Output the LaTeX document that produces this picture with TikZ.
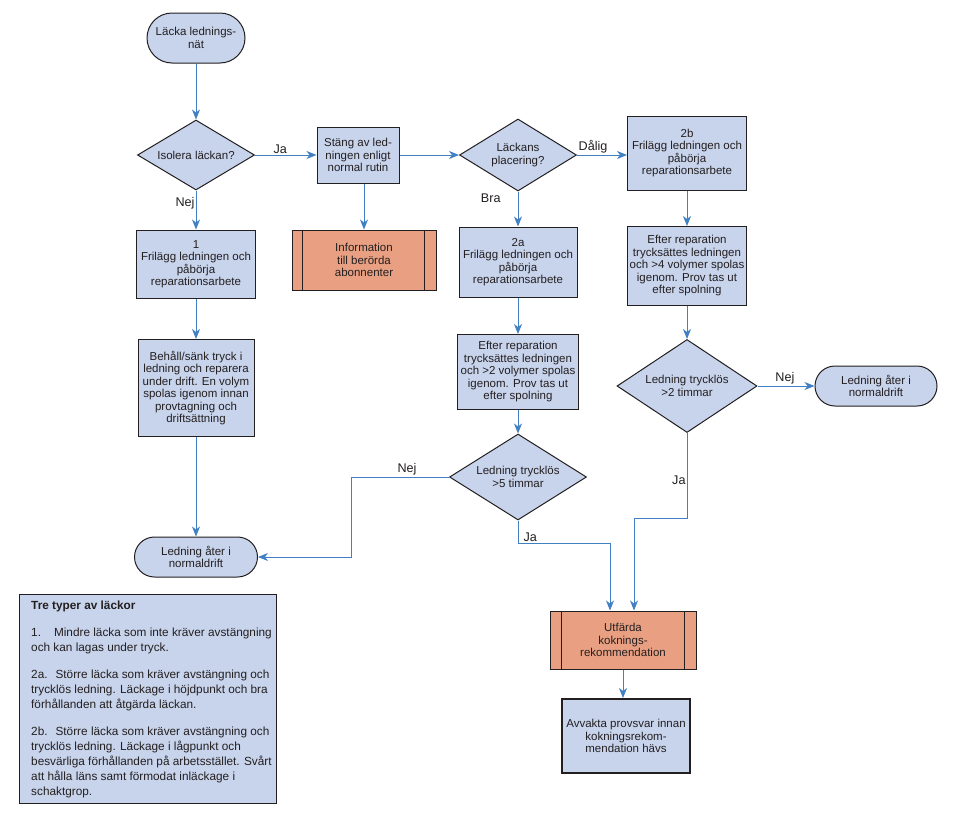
\documentclass[tikz,border=0pt]{standalone}
\usepackage{fontspec}
\setmainfont{Liberation Sans}
\usetikzlibrary{shapes.geometric,arrows.meta,calc}
\definecolor{boxblue}{RGB}{200,212,236}
\definecolor{salmon}{RGB}{233,160,130}
\definecolor{lineblue}{RGB}{66,128,196}
\definecolor{edgec}{RGB}{35,31,32}
\tikzset{
  base/.style={draw=edgec,line width=1pt,fill=boxblue,text=edgec,
    font=\fontsize{11.5}{12.5}\selectfont,align=center,inner sep=0pt},
  proc/.style={base,rectangle},
  term/.style={base,rectangle,rounded corners=20pt},
  dec/.style={base,diamond,aspect=1.6},
  sub/.style={base,rectangle,fill=salmon},
  conn/.style={draw=lineblue,line width=1pt,-{Stealth[length=10pt,width=8pt,inset=3pt]}},
  lbl/.style={font=\fontsize{12.6}{14}\selectfont,text=edgec,inner sep=1pt},
}
\begin{document}
\begin{tikzpicture}[x=1pt,y=-1pt]
\useasboundingbox (0,0) rectangle (965,822);

% nodes
\node[term,rounded corners=25pt,minimum width=98pt,minimum height=50pt] (start) at (196,38) {Läcka lednings-\\nät};
\node[dec,minimum width=117pt,minimum height=70pt] (d1) at (196,155) {Isolera läckan?};
\node[proc,minimum width=82pt,minimum height=56pt] (stang) at (358,155) {Stäng av led-\\ningen enligt\\normal rutin};
\node[sub,minimum width=144pt,minimum height=60pt] (info) at (364,260) {Information\\till berörda\\abonnenter};
\node[dec,minimum width=117pt,minimum height=72pt] (d2) at (518,155) {Läckans\\placering?};
\node[proc,minimum width=119pt,minimum height=68pt] (b1) at (196,264) {1\\Frilägg ledningen och\\påbörja\\reparationsarbete};
\node[proc,minimum width=116pt,minimum height=97pt] (behall) at (196,388) {Behåll/sänk tryck i\\ledning och reparera\\under drift. En volym\\spolas igenom innan\\provtagning och\\driftsättning};
\node[term,minimum width=123pt,minimum height=40pt] (end1) at (196,557) {Ledning åter i\\normaldrift};
\node[proc,minimum width=119pt,minimum height=74pt] (b2b) at (687,153) {2b\\Frilägg ledningen och\\påbörja\\reparationsarbete};
\node[proc,minimum width=119pt,minimum height=79pt] (e4) at (687,266) {Efter reparation\\trycksättes ledningen\\och >4 volymer spolas\\igenom. Prov tas ut\\efter spolning};
\node[dec,minimum width=140pt,minimum height=93pt] (d3) at (687,386) {Ledning trycklös\\>2 timmar};
\node[term,minimum width=122pt,minimum height=40pt] (end2) at (876,386) {Ledning åter i\\normaldrift};
\node[proc,minimum width=118pt,minimum height=70pt] (b2a) at (518,262) {2a\\Frilägg ledningen och\\påbörja\\reparationsarbete};
\node[proc,minimum width=121pt,minimum height=75pt] (e2) at (518,372) {Efter reparation\\trycksättes ledningen\\och >2 volymer spolas\\igenom. Prov tas ut\\efter spolning};
\node[dec,minimum width=137pt,minimum height=86pt] (d4) at (518,477) {Ledning trycklös\\>5 timmar};
\node[sub,minimum width=146pt,minimum height=58pt] (utf) at (623,640) {Utfärda\\koknings-\\rekommendation};
\node[proc,line width=2pt,minimum width=128pt,minimum height=74pt] (avv) at (626,736) {Avvakta provsvar innan\\kokningsrekom-\\mendation hävs};

% inner lines of predefined-process boxes
\draw[edgec,line width=1pt] ([xshift=11pt]info.north west) -- ([xshift=11pt]info.south west);
\draw[edgec,line width=1pt] ([xshift=-12pt]info.north east) -- ([xshift=-12pt]info.south east);
\draw[edgec,line width=1pt] ([xshift=12pt]utf.north west) -- ([xshift=12pt]utf.south west);
\draw[edgec,line width=1pt] ([xshift=-12pt]utf.north east) -- ([xshift=-12pt]utf.south east);

% connectors
\draw[conn] (start.south) -- (d1.north);
\draw[conn] (d1.east) -- node[lbl,above,pos=0.41]{Ja} (stang.west);
\draw[conn] (stang.east) -- (d2.west);
\draw[conn] (info.north |- stang.south) -- (info.north);
\draw[conn] (d1.south) -- node[lbl,left,pos=0.33]{Nej} (b1.north);
\draw[conn] (b1.south) -- (behall.north);
\draw[conn] (behall.south) -- (end1.north);
\draw[conn] (d2.east) -- node[lbl,above,pos=0.32]{Dålig} (d2.east -| b2b.west);
\draw[conn] (d2.south) -- node[lbl,left=16pt,pos=0.2]{Bra} (b2a.north);
\draw[conn] (b2b.south) -- (e4.north);
\draw[conn] (e4.south) -- (d3.north);
\draw[conn] (d3.east) -- node[lbl,above,pos=0.48]{Nej} (end2.west);
\draw[conn] (d3.south) -- node[lbl,left,pos=0.55]{Ja} ++(0,85) -| ([xshift=11pt]utf.north);
\draw[conn] (b2a.south) -- (e2.north);
\draw[conn] (e2.south) -- (d4.north);
\draw[conn] (d4.west) -- node[lbl,above,pos=0.43]{Nej} ++(-97.5,0) |- (end1.east);
\draw[conn] (d4.south) -- node[lbl,anchor=south west,pos=1,xshift=4pt]{Ja} ++(0,23) -| ([xshift=-13pt]utf.north);
\draw[conn] (utf.south) -- (utf.south |- avv.north);

% legend
\node[draw=edgec,line width=1pt,fill=boxblue,minimum width=257pt,minimum height=209pt,anchor=north west,inner sep=0pt] (legend) at (19,594) {};
\node[anchor=north west,inner sep=0pt,align=left,text=edgec,font=\fontsize{11.8}{15}\selectfont] (legtext) at (31,601)
 {\textbf{Tre typer av läckor}\\[12pt]
  1.\hspace{13pt}Mindre läcka som inte kräver avstängning\\
  och kan lagas under tryck.\\[12pt]
  2a.\hspace{8pt}Större läcka som kräver avstängning och\\
  trycklös ledning. Läckage i höjdpunkt och bra\\
  förhållanden att åtgärda läckan.\\[12pt]
  2b.\hspace{8pt}Större läcka som kräver avstängning och\\
  trycklös ledning. Läckage i lågpunkt och\\
  besvärliga förhållanden på arbetsstället. Svårt\\
  att hålla läns samt förmodat inläckage i\\
  schaktgrop.};
\end{tikzpicture}
\end{document}
